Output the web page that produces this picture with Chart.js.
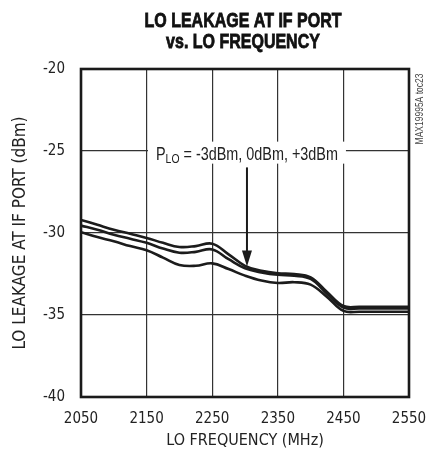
<!DOCTYPE html>
<html>
<head>
<meta charset="utf-8">
<script src="https://cdn.jsdelivr.net/npm/chart.js@4"></script>
<style>
  html, body { margin: 0; padding: 0; background: #fff; }
  #wrap { width: 426px; height: 460px; }
</style>
</head>
<body>
<div id="wrap"><canvas id="leakChart" width="426" height="460"></canvas></div>
<script>
  // LO frequency (MHz)
  const freqs = [2050, 2075, 2100, 2125, 2150, 2175, 2200, 2225, 2250, 2275, 2300,
                 2325, 2350, 2375, 2400, 2425, 2450, 2475, 2500, 2525, 2550];

  // LO leakage (dBm) for the three LO drive levels
  const leakHigh = [-29.2, -29.5, -29.8, -30.05, -30.3, -30.6, -30.85, -30.8, -30.65, -31.3, -32.0,
                    -32.3, -32.45, -32.5, -32.7, -33.6, -34.45, -34.5, -34.5, -34.5, -34.5];
  const leakMid  = [-29.55, -29.8, -30.1, -30.35, -30.6, -30.95, -31.2, -31.15, -31.0, -31.6, -32.15,
                    -32.4, -32.55, -32.6, -32.8, -33.7, -34.55, -34.6, -34.6, -34.6, -34.6];
  const leakLow  = [-29.95, -30.25, -30.5, -30.8, -31.05, -31.5, -31.95, -32.0, -31.85, -32.2, -32.6,
                    -32.9, -33.05, -33.0, -33.15, -33.9, -34.75, -34.8, -34.8, -34.8, -34.8];

  const xTicks = [2050, 2150, 2250, 2350, 2450, 2550];
  const yTicks = [-40, -35, -30, -25, -20];

  // annotation: label and arrow, in data units
  const noteX = 2303;
  const noteLabelY = -25.1;
  const arrowFromY = -26.0;
  const arrowToY = -32.05;

  const FONT = '"DejaVu Sans Condensed", "DejaVu Sans", sans-serif';
  const NARROW = '"Liberation Sans", Arial, sans-serif';

  function toPoints(vals) {
    return freqs.map((f, i) => ({ x: f, y: vals[i] }));
  }

  // Liberation Sans squeezed sideways, close to the condensed face of the original
  function narrowText(ctx, text, x, y, font, squeeze, stroke) {
    ctx.save();
    ctx.translate(x, y);
    ctx.scale(squeeze, 1);
    ctx.font = font;
    ctx.fillText(text, 0, 0);
    if (stroke) {
      ctx.lineWidth = stroke;
      ctx.strokeStyle = ctx.fillStyle;
      ctx.strokeText(text, 0, 0);
    }
    ctx.restore();
  }

  function narrowWidth(ctx, text, font, squeeze) {
    ctx.save();
    ctx.font = font;
    const w = ctx.measureText(text).width * squeeze;
    ctx.restore();
    return w;
  }

  // title, frame, note
  const extras = {
    id: 'extras',
    afterDraw(chart) {
      const ctx = chart.ctx;
      const a = chart.chartArea;
      const xs = chart.scales.x, ys = chart.scales.y;
      ctx.save();

      // frame
      ctx.strokeStyle = '#1a1a1a';
      ctx.lineWidth = 2.6;
      ctx.strokeRect(a.left, a.top, a.right - a.left, a.bottom - a.top);

      // title
      ctx.fillStyle = '#111';
      ctx.textAlign = 'center';
      ctx.textBaseline = 'alphabetic';
      narrowText(ctx, 'LO LEAKAGE AT IF PORT', 243, 27, 'bold 20px ' + NARROW, 0.8, 0.8);
      narrowText(ctx, 'vs. LO FREQUENCY', 243, 48, 'bold 20px ' + NARROW, 0.8, 0.8);

      // note label
      const nx = xs.getPixelForValue(noteX);
      const ny = ys.getPixelForValue(noteLabelY);
      const sq = 0.8;
      const mainFont = '18px ' + NARROW, subFont = '13px ' + NARROW;
      const rest = ' = -3dBm, 0dBm, +3dBm';
      const wP = narrowWidth(ctx, 'P', mainFont, sq);
      const wSub = narrowWidth(ctx, 'LO', subFont, sq);
      const wRest = narrowWidth(ctx, rest, mainFont, sq);
      const total = wP + wSub + wRest;
      const x0 = nx - total / 2;
      ctx.fillStyle = '#fff';
      ctx.fillRect(x0 - 8, ny - 11, total + 16, 22);
      ctx.fillStyle = '#222';
      ctx.textAlign = 'left';
      narrowText(ctx, 'P', x0, ny + 7, mainFont, sq);
      narrowText(ctx, 'LO', x0 + wP, ny + 10, subFont, sq);
      narrowText(ctx, rest, x0 + wP + wSub, ny + 7, mainFont, sq);

      // arrow
      const y1 = ys.getPixelForValue(arrowFromY);
      const y2 = ys.getPixelForValue(arrowToY);
      ctx.strokeStyle = '#1a1a1a';
      ctx.lineWidth = 2;
      ctx.beginPath();
      ctx.moveTo(nx, y1);
      ctx.lineTo(nx, y2 - 12);
      ctx.stroke();
      ctx.fillStyle = '#1a1a1a';
      ctx.beginPath();
      ctx.moveTo(nx, y2);
      ctx.lineTo(nx - 5, y2 - 16);
      ctx.lineTo(nx + 5, y2 - 16);
      ctx.closePath();
      ctx.fill();

      // part number
      ctx.save();
      ctx.translate(420, 109);
      ctx.rotate(-Math.PI / 2);
      ctx.fillStyle = '#444';
      ctx.textAlign = 'center';
      ctx.textBaseline = 'middle';
      narrowText(ctx, 'MAX19995A toc23', 0, 0, '10px ' + NARROW, 0.85);
      ctx.restore();

      ctx.restore();
    }
  };

  const lineStyle = {
    borderColor: '#1c1c1c',
    borderWidth: 2.6,
    pointRadius: 0,
    fill: false,
    tension: 0.4
  };

  new Chart(document.getElementById('leakChart').getContext('2d'), {
    type: 'line',
    data: {
      datasets: [
        Object.assign({ label: '+3dBm', data: toPoints(leakHigh) }, lineStyle),
        Object.assign({ label: '0dBm', data: toPoints(leakMid) }, lineStyle),
        Object.assign({ label: '-3dBm', data: toPoints(leakLow) }, lineStyle)
      ]
    },
    options: {
      responsive: false,
      animation: false,
      layout: { padding: { top: 69, right: 17, bottom: 0, left: 0 } },
      plugins: {
        legend: { display: false },
        tooltip: { enabled: false }
      },
      scales: {
        x: {
          type: 'linear',
          min: 2050,
          max: 2550,
          afterFit: s => { s.height = 63; s.paddingLeft = 0; s.paddingRight = 0; },
          afterBuildTicks: s => { s.ticks = xTicks.map(v => ({ value: v })); },
          grid: { color: '#333', lineWidth: 1.2, drawTicks: false },
          border: { display: false },
          ticks: {
            color: '#222', padding: 13, maxRotation: 0,
            font: { family: FONT, size: 15 },
            callback: v => String(v)
          },
          title: {
            display: true,
            text: 'LO FREQUENCY (MHz)',
            color: '#222',
            padding: { top: 0, bottom: 10 },
            font: { family: FONT, size: 16 }
          }
        },
        y: {
          min: -40,
          max: -20,
          afterFit: s => { s.width = 81; s.paddingTop = 0; s.paddingBottom = 0; },
          afterBuildTicks: s => { s.ticks = yTicks.map(v => ({ value: v })); },
          grid: { color: '#333', lineWidth: 1.2, drawTicks: false },
          border: { display: false },
          ticks: {
            color: '#222', padding: 16,
            font: { family: FONT, size: 15 },
            callback: v => String(v)
          },
          title: {
            display: true,
            text: 'LO LEAKAGE AT IF PORT (dBm)',
            color: '#222',
            padding: { top: 10, bottom: 0 },
            font: { family: FONT, size: 17 }
          }
        }
      }
    },
    plugins: [extras]
  });
</script>
</body>
</html>
